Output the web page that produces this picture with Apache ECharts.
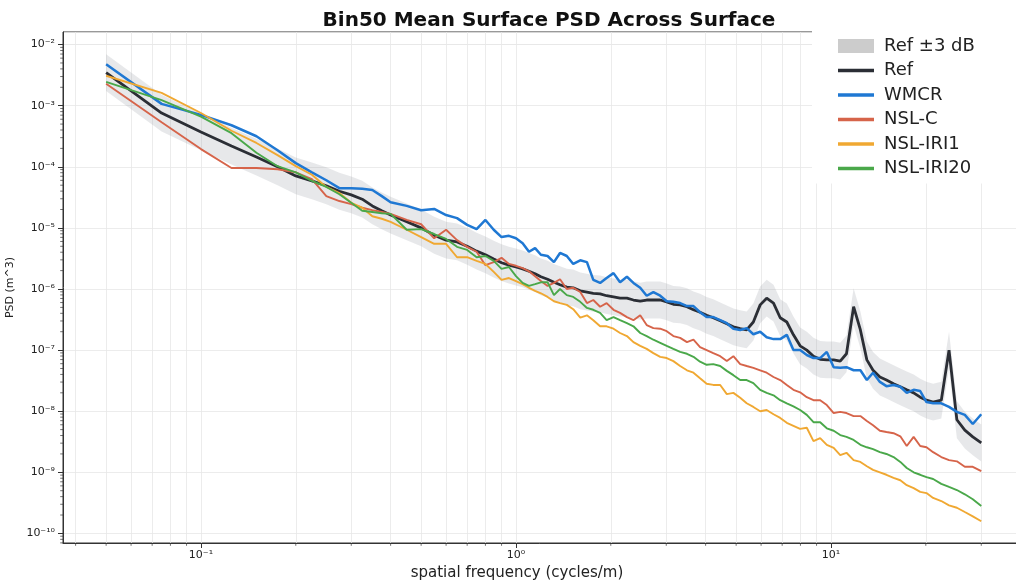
<!DOCTYPE html>
<html><head><meta charset="utf-8">
<script src="https://cdn.jsdelivr.net/npm/echarts@6/dist/echarts.min.js"></script>
<style>html,body{margin:0;padding:0;background:#fff}#c{width:1016px;height:581px}</style>
</head><body><div id="c"></div>
<script>
// spatial frequency (cycles/m)
const freqs = [0.05,0.075,0.1,0.125,0.15,0.175,0.2,0.225,0.25,0.275,0.3,0.325,0.35,0.375,0.4,0.45,0.5,0.55,0.6,0.65,0.7,0.75,0.8,0.85,0.9,0.95,
1.0,1.05,1.1,1.15,1.2,1.26,1.32,1.38,1.45,1.52,1.6,1.68,1.76,1.85,1.94,2.04,2.14,2.25,2.36,2.48,2.6,2.73,2.87,3.01,3.16,3.32,3.49,3.66,3.84,4.03,
4.23,4.45,4.67,4.9,5.15,5.4,5.67,5.96,6.25,6.57,6.9,7.24,7.6,7.98,8.38,8.8,9.24,9.7,10.2,10.7,11.2,11.8,12.4,13.0,13.6,14.3,15.0,15.8,16.6,17.4,
18.3,19.2,20.1,21.1,22.4,23.7,25.1,26.6,28.2,30.0];

// PSD values, stored as log10(PSD in m^3)
const refLog10 = [-2.46,-3.12,-3.43,-3.66,-3.84,-4.00,-4.15,-4.23,-4.31,-4.40,-4.46,-4.53,-4.64,-4.72,-4.79,-4.90,-5.00,-5.12,-5.20,-5.23,-5.30,-5.38,-5.44,-5.51,-5.57,-5.61,
-5.64,-5.67,-5.71,-5.75,-5.80,-5.84,-5.89,-5.93,-5.97,-5.98,-6.03,-6.05,-6.07,-6.08,-6.11,-6.13,-6.15,-6.15,-6.18,-6.20,
-6.18,-6.18,-6.18,-6.21,-6.25,-6.26,-6.29,-6.34,-6.38,-6.43,-6.47,-6.52,-6.57,-6.62,-6.65,-6.67,-6.54,-6.26,-6.15,-6.23,
-6.47,-6.54,-6.75,-6.93,-7.00,-7.10,-7.15,-7.16,-7.16,-7.18,-7.06,-6.29,-6.67,-7.16,-7.33,-7.44,-7.49,-7.55,-7.60,-7.65,
-7.70,-7.77,-7.82,-7.85,-7.82,-7.00,-8.14,-8.31,-8.42,-8.52];

const wmcrLog10 = [-2.32,-2.97,-3.15,-3.32,-3.50,-3.73,-3.94,-4.09,-4.22,-4.35,-4.35,-4.36,-4.38,-4.48,-4.58,-4.64,-4.71,-4.69,-4.79,-4.84,-4.95,-5.02,-4.87,-5.03,-5.15,-5.13,
-5.17,-5.25,-5.39,-5.33,-5.44,-5.46,-5.56,-5.41,-5.46,-5.59,-5.53,-5.56,-5.85,-5.90,-5.82,-5.74,-5.89,-5.80,-5.90,-5.98,
-6.11,-6.05,-6.11,-6.20,-6.21,-6.23,-6.28,-6.28,-6.38,-6.46,-6.46,-6.51,-6.56,-6.65,-6.67,-6.64,-6.74,-6.70,-6.79,-6.82,
-6.82,-6.75,-7.00,-7.00,-7.08,-7.13,-7.13,-7.03,-7.28,-7.29,-7.28,-7.33,-7.33,-7.49,-7.37,-7.52,-7.59,-7.57,-7.60,-7.70,
-7.65,-7.67,-7.85,-7.87,-7.87,-7.93,-8.01,-8.06,-8.21,-8.05];

const nslcLog10 = [-2.64,-3.27,-3.71,-4.02,-4.02,-4.04,-4.09,-4.20,-4.48,-4.56,-4.61,-4.67,-4.71,-4.74,-4.77,-4.87,-4.94,-5.17,-5.03,-5.20,-5.31,-5.39,-5.61,-5.56,-5.49,-5.59,
-5.62,-5.66,-5.71,-5.79,-5.87,-5.95,-5.90,-5.84,-6.00,-5.98,-6.05,-6.23,-6.18,-6.29,-6.23,-6.34,-6.39,-6.46,-6.51,-6.43,
-6.59,-6.64,-6.65,-6.69,-6.77,-6.80,-6.87,-6.83,-6.95,-7.00,-7.05,-7.10,-7.18,-7.10,-7.23,-7.26,-7.29,-7.33,-7.37,-7.44,
-7.49,-7.57,-7.65,-7.69,-7.77,-7.82,-7.82,-7.90,-8.03,-8.01,-8.03,-8.08,-8.08,-8.16,-8.23,-8.32,-8.34,-8.36,-8.41,-8.57,
-8.42,-8.57,-8.59,-8.67,-8.75,-8.80,-8.82,-8.91,-8.91,-8.98];

const iri1Log10 = [-2.51,-2.79,-3.12,-3.41,-3.61,-3.81,-3.99,-4.13,-4.33,-4.43,-4.59,-4.67,-4.81,-4.85,-4.90,-5.03,-5.15,-5.26,-5.26,-5.48,-5.48,-5.54,-5.59,-5.72,-5.85,-5.82,
-5.87,-5.92,-5.98,-6.03,-6.07,-6.13,-6.20,-6.23,-6.26,-6.33,-6.47,-6.43,-6.51,-6.61,-6.61,-6.65,-6.72,-6.77,-6.87,-6.93,
-6.98,-7.05,-7.11,-7.13,-7.18,-7.26,-7.33,-7.37,-7.46,-7.55,-7.57,-7.57,-7.72,-7.70,-7.78,-7.87,-7.93,-8.00,-7.98,-8.05,
-8.11,-8.19,-8.24,-8.29,-8.27,-8.49,-8.44,-8.55,-8.60,-8.72,-8.68,-8.80,-8.83,-8.90,-8.96,-9.00,-9.04,-9.09,-9.13,-9.21,
-9.26,-9.32,-9.34,-9.42,-9.47,-9.54,-9.58,-9.65,-9.72,-9.80];

const iri20Log10 = [-2.61,-2.91,-3.18,-3.45,-3.77,-3.99,-4.09,-4.23,-4.33,-4.45,-4.59,-4.72,-4.74,-4.76,-4.77,-5.03,-5.02,-5.10,-5.18,-5.31,-5.36,-5.48,-5.46,-5.54,-5.67,-5.64,
-5.79,-5.90,-5.95,-5.92,-5.89,-5.89,-6.10,-6.00,-6.10,-6.13,-6.21,-6.31,-6.34,-6.39,-6.51,-6.46,-6.51,-6.56,-6.61,-6.72,
-6.77,-6.83,-6.88,-6.93,-6.98,-7.03,-7.06,-7.11,-7.19,-7.24,-7.23,-7.26,-7.34,-7.41,-7.49,-7.49,-7.54,-7.65,-7.70,-7.74,
-7.82,-7.87,-7.92,-7.98,-8.06,-8.18,-8.18,-8.28,-8.32,-8.39,-8.42,-8.47,-8.55,-8.59,-8.62,-8.67,-8.70,-8.75,-8.83,-8.93,
-9.00,-9.04,-9.08,-9.11,-9.19,-9.24,-9.29,-9.36,-9.44,-9.55];

const seriesNames = ['Ref','WMCR','NSL-C','NSL-IRI1','NSL-IRI20'];
const bandName = 'Ref \u00b13 dB';
const bandFactor = 2; // +/-3 dB in power

const FONT = 'DejaVu Sans';
const sup = {'-':'\u207b','0':'\u2070','1':'\u00b9','2':'\u00b2','3':'\u00b3','4':'\u2074','5':'\u2075','6':'\u2076','7':'\u2077','8':'\u2078','9':'\u2079'};
function powLabel(v){
  const e = Math.log10(v), r = Math.round(e);
  if (Math.abs(e - r) > 1e-6) return '';
  return '10' + String(r).split('').map(c => sup[c]).join('');
}
const toPairs = logs => freqs.map((f, i) => [f, Math.pow(10, logs[i])]);
const refVals = refLog10.map(v => Math.pow(10, v));

// axis extents and minor tick / grid positions (2..9 x 10^n)
const xMin = 0.03648, xMax = 41.3, yMin = 6.97e-11, yMax = 0.01607;
const minorX = [], minorY = [];
for (let e = -2; e <= 1; e++) for (let k = 2; k <= 9; k++) { const v = k * Math.pow(10, e); if (v > xMin && v < xMax) minorX.push(v); }
for (let e = -11; e <= -2; e++) for (let k = 2; k <= 9; k++) { const v = k * Math.pow(10, e); if (v > yMin && v < yMax) minorY.push(v); }

const colors = ['#2b2e35', '#1f78d3', '#d6644a', '#f0a832', '#4aa84a'];
const widths = [2.8, 2.5, 1.9, 1.9, 1.9];
const logs = [refLog10, wmcrLog10, nslcLog10, iri1Log10, iri20Log10];
const gridColor = '#e7e7e7';
const axisColor = '#333';

const series = [
  { // minor grid lines
    name: '_minorGrid', type: 'line', symbol: 'none', silent: true, z: 0,
    data: [[freqs[0], refVals[0]]], lineStyle: { opacity: 0 },
    markLine: {
      silent: true, z: 0, symbol: ['none', 'none'], label: { show: false }, animation: false,
      lineStyle: { color: gridColor, width: 0.8, type: 'solid' },
      data: minorX.map(v => ({ xAxis: v })).concat(minorY.map(v => ({ yAxis: v })))
    }
  },
  { // minor ticks on the axes
    name: '_minorTicks', type: 'custom', silent: true, z: 2, clip: false,
    data: [[xMin, yMin]],
    renderItem: function (params, api) {
      const origin = api.coord([xMin, yMin]);
      const children = [];
      minorX.forEach(v => { const p = api.coord([v, yMin]); children.push({ type: 'line', shape: { x1: p[0], y1: origin[1], x2: p[0], y2: origin[1] + 2.8 }, style: { stroke: axisColor, lineWidth: 0.7 } }); });
      minorY.forEach(v => { const p = api.coord([xMin, v]); children.push({ type: 'line', shape: { x1: origin[0], y1: p[1], x2: origin[0] - 2.8, y2: p[1] }, style: { stroke: axisColor, lineWidth: 0.7 } }); });
      return { type: 'group', children: children };
    }
  },
  { // Ref +/- 3 dB band
    name: bandName, type: 'custom', silent: true, z: 1, clip: true,
    data: [[freqs[0], refVals[0]]],
    itemStyle: { color: '#cccccc' },
    renderItem: function (params, api) {
      const upper = freqs.map((f, i) => api.coord([f, refVals[i] * bandFactor]));
      const lower = freqs.map((f, i) => api.coord([f, refVals[i] / bandFactor])).reverse();
      return { type: 'polygon', shape: { points: upper.concat(lower) }, style: { fill: 'rgba(150,155,165,0.23)' } };
    }
  }
];
seriesNames.forEach((n, i) => {
  series.push({
    name: n, type: 'line', symbol: 'none', showSymbol: false, z: 3,
    data: toPairs(logs[i]),
    lineStyle: { color: colors[i], width: widths[i] },
    itemStyle: { color: colors[i] }
  });
});

const chart = echarts.init(document.getElementById('c'), null, { renderer: 'canvas' });
chart.setOption({
  animation: false,
  backgroundColor: '#ffffff',
  title: {
    text: 'Bin50 Mean Surface PSD Across Surface',
    left: 544, top: 6, textAlign: 'center',
    textStyle: { fontFamily: FONT, fontSize: 20, fontWeight: 'bold', color: '#111' }
  },
  legend: {
    orient: 'vertical', left: 812, top: 28, z: 20,
    padding: [9, 60, 6, 26], itemWidth: 36, itemHeight: 14, itemGap: 6.5,
    backgroundColor: '#ffffff', symbolKeepAspect: true,
    textStyle: { fontFamily: FONT, fontSize: 18, color: '#222', padding: [0, 0, 0, 5] },
    data: [{ name: bandName, icon: 'rect', itemStyle: { color: '#cccccc' } }].concat(
      seriesNames.map((n, i) => ({ name: n, icon: 'path://M0,0H36V3.3H0Z', itemStyle: { color: colors[i] } })))
  },
  grid: { left: 63, top: 32, right: -9, bottom: 38, show: true, borderColor: axisColor, borderWidth: 1, outerBoundsMode: 'none' },
  xAxis: {
    type: 'log', min: xMin, max: xMax, splitNumber: 5,
    axisLine: { show: true, lineStyle: { color: axisColor, width: 1 } },
    axisTick: { show: true, length: 5, lineStyle: { color: axisColor } },
    axisLabel: { formatter: powLabel, fontFamily: FONT, fontSize: 11, color: '#222', margin: 7, showMinLabel: false, showMaxLabel: false },
    splitLine: { show: true, lineStyle: { color: gridColor, width: 0.8 } },
    name: 'spatial frequency (cycles/m)', nameLocation: 'middle', nameGap: 23,
    nameTextStyle: { fontFamily: FONT, fontSize: 15, color: '#222', padding: [0, 54, 0, 0] }
  },
  yAxis: {
    type: 'log', min: yMin, max: yMax, splitNumber: 10,
    axisLine: { show: true, lineStyle: { color: axisColor, width: 1 } },
    axisTick: { show: true, length: 5, lineStyle: { color: axisColor } },
    axisLabel: { formatter: powLabel, fontFamily: FONT, fontSize: 11, color: '#222', margin: 8, showMinLabel: false, showMaxLabel: false },
    splitLine: { show: true, lineStyle: { color: gridColor, width: 0.8 } },
    name: 'PSD (m^3)', nameLocation: 'middle', nameGap: 41,
    nameTextStyle: { fontFamily: FONT, fontSize: 11, color: '#222' }
  },
  series: series
});
</script>
</body></html>
